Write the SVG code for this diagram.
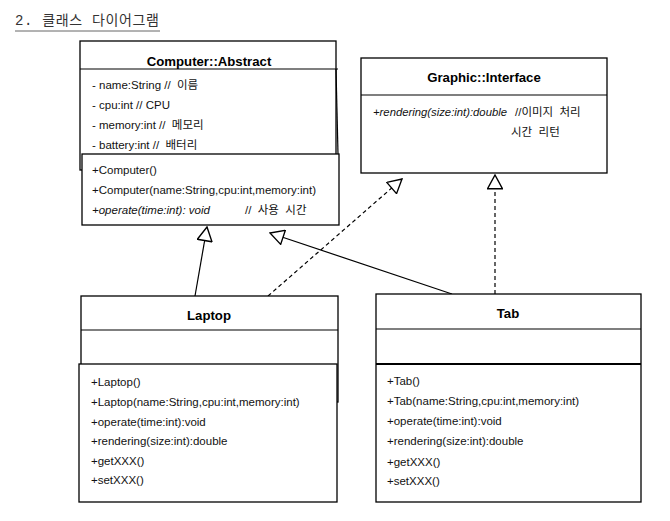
<svg xmlns="http://www.w3.org/2000/svg" width="670" height="521" viewBox="0 0 670 521">
<style>
.box{fill:#fff;stroke:#000;stroke-width:1.3}
.t{font-family:"Liberation Sans","Noto Sans CJK KR",sans-serif;font-size:11.5px;fill:#111}
.h{font-family:"Liberation Sans","Noto Sans CJK KR",sans-serif;font-size:13.2px;font-weight:bold;fill:#000;text-anchor:middle}
.i{font-style:italic}
.ln{stroke:#000;stroke-width:1.2;fill:none}
.d{stroke-dasharray:4,3}
</style>
<defs>
<marker id="tri" markerUnits="userSpaceOnUse" markerWidth="16" markerHeight="16" viewBox="0 0 14 14" refX="13" refY="7" orient="auto">
<path d="M1,0.5 L13,7 L1,13.5 Z" fill="#fff" stroke="#000" stroke-width="1.2"/>
</marker>
</defs>
<rect width="670" height="521" fill="#fff"/>
<text x="15" y="25" font-family="Liberation Mono,'Noto Sans CJK KR',monospace" font-size="14" fill="#333" textLength="144" lengthAdjust="spacing">2. 클래스 다이어그램</text>
<line x1="15" y1="31" x2="160" y2="31" stroke="#666" stroke-width="1"/>

<g id="connectors">
<line class="ln" x1="195" y1="296" x2="207" y2="227" marker-end="url(#tri)"/>
<line class="ln" x1="452" y1="294" x2="270" y2="233" marker-end="url(#tri)"/>
<line class="ln d" x1="268" y1="296" x2="402" y2="179" marker-end="url(#tri)"/>
<line class="ln d" x1="495" y1="294" x2="495" y2="175" marker-end="url(#tri)"/>
</g>

<g id="computer">
<rect class="box" x="80" y="41" width="256" height="129"/>
<line class="ln" x1="80" y1="69" x2="338" y2="69"/>
<line class="ln" x1="336" y1="69" x2="338" y2="154"/>
<rect class="box" x="82" y="154" width="257" height="71"/>
<text class="h" x="209" y="66">Computer::Abstract</text>
<text class="t" x="92" y="89" xml:space="preserve">- name:String //  이름</text>
<text class="t" x="92" y="109">- cpu:int // CPU</text>
<text class="t" x="92" y="129" xml:space="preserve">- memory:int //  메모리</text>
<text class="t" x="92" y="149" xml:space="preserve">- battery:int //  배터리</text>
<text class="t" x="92" y="174">+Computer()</text>
<text class="t" x="92" y="194">+Computer(name:String,cpu:int,memory:int)</text>
<text class="t i" x="92" y="214">+operate(time:int): void</text>
<text class="t" x="245" y="214" xml:space="preserve">//  사용  시간</text>
</g>

<g id="graphic">
<rect class="box" x="361" y="58" width="246" height="115"/>
<line class="ln" x1="361" y1="95" x2="607" y2="95"/>
<text class="h" x="484" y="82">Graphic::Interface</text>
<text class="t i" x="373" y="116" font-size="11" textLength="134" lengthAdjust="spacingAndGlyphs">+rendering(size:int):double</text>
<text class="t" x="515" y="116" xml:space="preserve">//이미지  처리</text>
<text class="t" x="511" y="136" xml:space="preserve">시간  리턴</text>
</g>

<g id="laptop">
<rect class="box" x="81" y="296" width="257" height="106"/>
<line class="ln" x1="81" y1="330" x2="338" y2="330"/>
<rect class="box" x="79" y="364" width="258" height="138"/>
<text class="h" x="209" y="320">Laptop</text>
<text class="t" x="91" y="386">+Laptop()</text>
<text class="t" x="91" y="406">+Laptop(name:String,cpu:int,memory:int)</text>
<text class="t" x="91" y="426">+operate(time:int):void</text>
<text class="t" x="91" y="445">+rendering(size:int):double</text>
<text class="t" x="91" y="465">+getXXX()</text>
<text class="t" x="91" y="484">+setXXX()</text>
</g>

<g id="tab">
<rect class="box" x="376" y="294" width="265" height="208"/>
<line class="ln" x1="376" y1="329" x2="641" y2="329"/>
<line x1="376" y1="364" x2="641" y2="364" stroke="#000" stroke-width="2"/>
<text class="h" x="508" y="318">Tab</text>
<text class="t" x="387" y="385">+Tab()</text>
<text class="t" x="387" y="405">+Tab(name:String,cpu:int,memory:int)</text>
<text class="t" x="387" y="425">+operate(time:int):void</text>
<text class="t" x="387" y="445">+rendering(size:int):double</text>
<text class="t" x="387" y="466">+getXXX()</text>
<text class="t" x="387" y="485">+setXXX()</text>
</g>
</svg>
